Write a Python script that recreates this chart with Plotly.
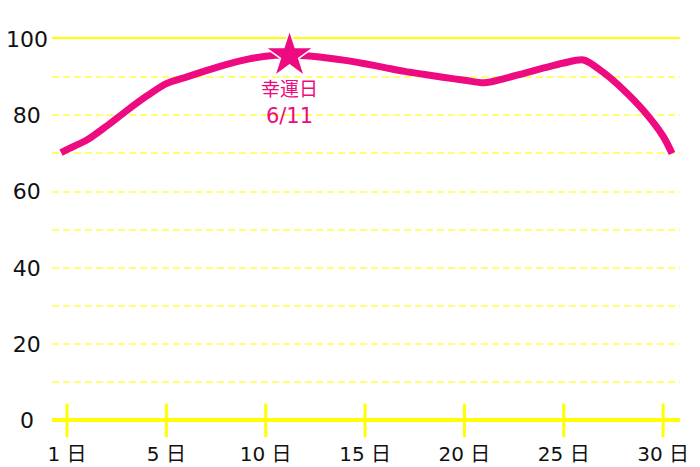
import plotly.graph_objects as go

# ---- data ----
day_pos = [-0.3, 0, 1, 2, 3, 4, 5, 6, 7, 8, 9, 10, 11, 12, 13, 14, 15, 16, 17, 18, 19,
           20, 21, 22, 23, 24, 25, 26, 27, 28, 29, 30, 30.45]
luck = [70.2, 71.0, 73.5, 77.2, 81.2, 85.0, 88.3, 90.0, 91.7, 93.3, 94.6, 95.5, 95.8, 95.6,
        95.1, 94.4, 93.5, 92.5, 91.5, 90.7, 89.9, 89.2, 88.5, 89.6, 91.0, 92.4, 93.7, 94.5,
        91.2, 86.7, 81.3, 74.5, 70.0]
lucky_x = [11.2]
lucky_y = [95.7]
lucky_title = "幸運日"
lucky_date = "6/11"

x_tick_vals = [0, 5, 10, 15, 20, 25, 30]
x_tick_text = ["1 日", "5 日", "10 日", "15 日", "20 日", "25 日", "30 日"]
y_tick_vals = [0, 20, 40, 60, 80, 100]
y_tick_text = ["0\u2007", "20\u2004", "40\u2004", "60\u2004", "80\u2004", "100"]

PINK = "#EE0A80"
YELLOW = "#FFFF00"
LIGHT_YELLOW = "#FFFF70"
FONT = "DejaVu Sans, Noto Sans CJK JP"

fig = go.Figure()

# cross-style tick marks on the x axis (on the overlaid top axis, which draws the 100 line)
fig.add_trace(go.Scatter(
    x=x_tick_vals, y=[0] * len(x_tick_vals), mode="markers", xaxis="x2",
    marker=dict(symbol="line-ns", size=24, line=dict(color=YELLOW, width=3)),
    cliponaxis=False, hoverinfo="skip", showlegend=False))

fig.add_trace(go.Scatter(
    x=day_pos, y=luck, mode="lines",
    line=dict(color=PINK, width=7, shape="spline", smoothing=0.8),
    cliponaxis=False, showlegend=False))

fig.add_trace(go.Scatter(
    x=lucky_x, y=lucky_y, mode="markers",
    marker=dict(symbol="star", size=36, color=PINK, line=dict(color="white", width=1.5)),
    cliponaxis=False, showlegend=False))

fig.add_annotation(x=lucky_x[0], y=lucky_y[0],
                   text=f'<span style="font-size:19px">{lucky_title}</span><br>{lucky_date}',
                   showarrow=False, yanchor="top", yshift=-21,
                   font=dict(family=FONT, size=21, color=PINK))

fig.update_layout(
    width=700, height=467,
    margin=dict(l=52, r=20, t=39, b=39),
    paper_bgcolor="white", plot_bgcolor="white",
    font=dict(family=FONT, size=20, color="#111111"),
    xaxis=dict(range=[-0.755, 30.85], tickvals=x_tick_vals, ticktext=x_tick_text,
               showgrid=False, zeroline=False, showline=False, ticks="",
               automargin=False,
               ticklabelstandoff=12, tickfont=dict(size=20, color="#111111")),
    xaxis2=dict(overlaying="x", side="top", matches="x", showline=True,
                linecolor=YELLOW, linewidth=2, showticklabels=False, showgrid=False,
                zeroline=False, ticks="", automargin=False, layer="below traces"),
    yaxis=dict(range=[-2, 100], tickvals=y_tick_vals, ticktext=y_tick_text,
               showgrid=True, gridcolor=LIGHT_YELLOW, gridwidth=2, griddash="7px,4px",
               minor=dict(dtick=10, showgrid=True, gridcolor=LIGHT_YELLOW, gridwidth=2,
                          griddash="7px,4px"),
               zeroline=True, zerolinecolor=YELLOW, zerolinewidth=4,
               showline=False, ticks="", ticklabelstandoff=3, automargin=False,
               tickfont=dict(size=22, color="#111111")),
)

fig.write_html("out.html", config={"displayModeBar": False},
               post_script="document.body.style.margin='0';document.body.style.overflow='hidden';")
